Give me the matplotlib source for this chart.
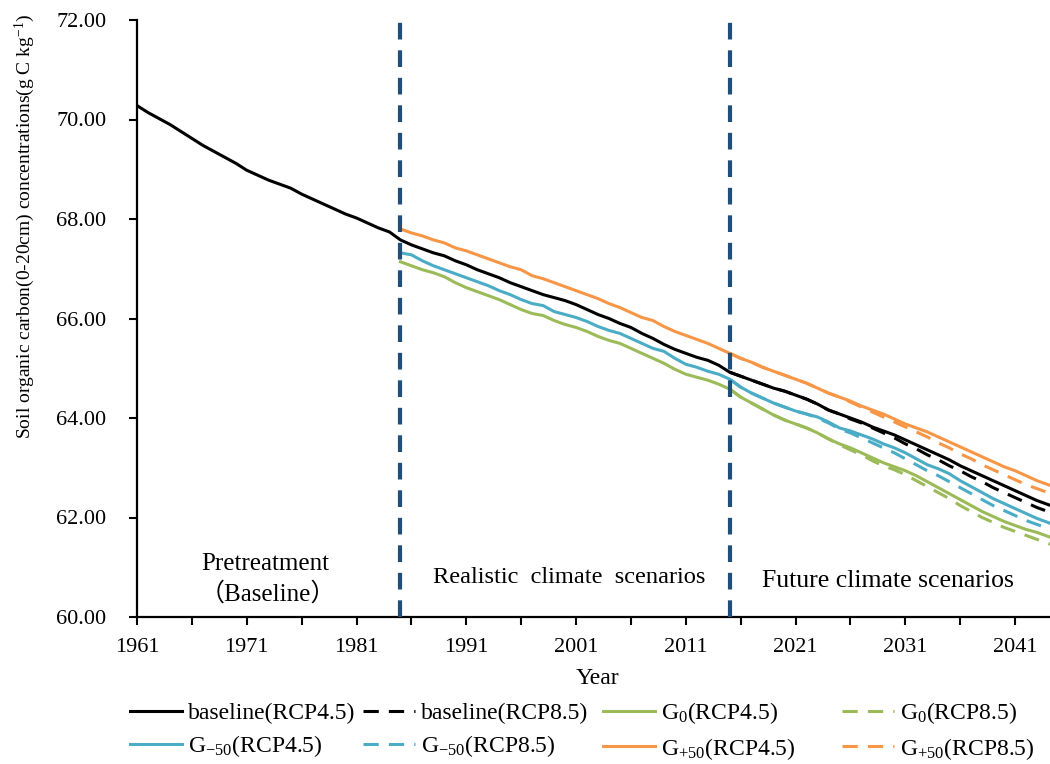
import matplotlib
matplotlib.use('Agg')
import matplotlib.pyplot as plt
from matplotlib.lines import Line2D

plt.rcParams['font.family'] = ['Liberation Serif', 'Noto Sans CJK SC']
plt.rcParams['mathtext.fontset'] = 'custom'
plt.rcParams['mathtext.rm'] = 'Liberation Serif'
plt.rcParams['mathtext.default'] = 'regular'

# years
years_base = list(range(1961, 2046))
years_sim = list(range(1985, 2046))
years_future = list(range(2015, 2046))

# baseline, RCP4.5 (1961-2045)
baseline_45 = [70.28, 70.14, 70.02, 69.90, 69.76, 69.62, 69.48, 69.36, 69.24, 69.12,
               68.98, 68.88, 68.78, 68.70, 68.62, 68.50, 68.40, 68.30, 68.20, 68.10,
               68.02, 67.92, 67.82, 67.74, 67.58,
               67.48, 67.40, 67.32, 67.26, 67.16, 67.08, 66.98, 66.90, 66.82, 66.72,
               66.64, 66.56, 66.48, 66.42, 66.36, 66.28, 66.18, 66.08, 66.00, 65.90,
               65.82, 65.70, 65.60, 65.48, 65.38, 65.30, 65.22, 65.16, 65.06, 64.92,
               64.84, 64.76, 64.68, 64.60, 64.54, 64.46, 64.38, 64.28, 64.16, 64.08,
               64.00, 63.92, 63.82, 63.74, 63.66, 63.56, 63.46, 63.36, 63.26, 63.16,
               63.04, 62.94, 62.84, 62.74, 62.64, 62.54, 62.44, 62.34, 62.26, 62.18]
# baseline, RCP8.5 (2015-2045)
baseline_85 = [64.92, 64.84, 64.76, 64.68, 64.60, 64.54, 64.46, 64.38, 64.28, 64.16,
               64.08, 63.98, 63.90, 63.80, 63.70, 63.60, 63.48, 63.38, 63.26, 63.16,
               63.04, 62.94, 62.82, 62.72, 62.60, 62.50, 62.40, 62.30, 62.20, 62.12,
               62.04]

# G0 (1985-2045)
g0_45 = [67.14, 67.06, 66.98, 66.92, 66.84, 66.72, 66.62, 66.54, 66.46, 66.38,
         66.28, 66.18, 66.10, 66.06, 65.96, 65.88, 65.82, 65.74, 65.64, 65.56,
         65.50, 65.40, 65.30, 65.20, 65.10, 64.98, 64.88, 64.82, 64.76, 64.68,
         64.58, 64.42, 64.30, 64.18, 64.06, 63.96, 63.88, 63.80, 63.70, 63.58,
         63.48, 63.40, 63.30, 63.20, 63.10, 63.02, 62.94, 62.84, 62.72, 62.60,
         62.48, 62.36, 62.24, 62.12, 62.02, 61.92, 61.84, 61.76, 61.70, 61.62,
         61.54]
g0_85 = [64.58, 64.42, 64.30, 64.18, 64.06, 63.96, 63.88, 63.80, 63.70, 63.58,
         63.46, 63.36, 63.26, 63.14, 63.04, 62.96, 62.86, 62.74, 62.62, 62.50,
         62.38, 62.24, 62.12, 62.00, 61.90, 61.80, 61.72, 61.64, 61.56, 61.48,
         61.40]

# G-50 (1985-2045)
gm50_45 = [67.32, 67.28, 67.16, 67.06, 66.98, 66.90, 66.82, 66.74, 66.66, 66.56,
           66.48, 66.38, 66.30, 66.26, 66.14, 66.08, 66.02, 65.94, 65.84, 65.76,
           65.70, 65.60, 65.50, 65.40, 65.34, 65.20, 65.08, 65.02, 64.94, 64.88,
           64.78, 64.62, 64.50, 64.40, 64.30, 64.22, 64.14, 64.08, 64.02, 63.92,
           63.80, 63.74, 63.66, 63.58, 63.48, 63.40, 63.30, 63.18, 63.06, 62.98,
           62.88, 62.74, 62.62, 62.50, 62.38, 62.28, 62.18, 62.08, 61.98, 61.90,
           61.80]
gm50_85 = [64.78, 64.62, 64.50, 64.40, 64.30, 64.22, 64.14, 64.08, 64.00, 63.90,
           63.78, 63.70, 63.60, 63.50, 63.40, 63.30, 63.18, 63.06, 62.94, 62.84,
           62.72, 62.60, 62.48, 62.36, 62.24, 62.14, 62.04, 61.94, 61.86, 61.78,
           61.70]

# G+50 (1985-2045)
gp50_45 = [67.80, 67.72, 67.66, 67.58, 67.52, 67.42, 67.36, 67.28, 67.20, 67.12,
           67.04, 66.98, 66.86, 66.80, 66.72, 66.64, 66.56, 66.48, 66.40, 66.30,
           66.22, 66.12, 66.02, 65.96, 65.84, 65.74, 65.66, 65.58, 65.50, 65.40,
           65.30, 65.20, 65.12, 65.02, 64.94, 64.86, 64.78, 64.70, 64.60, 64.50,
           64.42, 64.34, 64.24, 64.16, 64.08, 63.98, 63.88, 63.80, 63.72, 63.62,
           63.52, 63.42, 63.32, 63.22, 63.12, 63.02, 62.94, 62.84, 62.74, 62.66,
           62.58]
gp50_85 = [65.30, 65.20, 65.12, 65.02, 64.94, 64.86, 64.78, 64.70, 64.60, 64.50,
           64.42, 64.32, 64.22, 64.12, 64.02, 63.92, 63.82, 63.72, 63.62, 63.50,
           63.40, 63.28, 63.18, 63.06, 62.96, 62.86, 62.76, 62.66, 62.58, 62.50,
           62.42]

period_breaks = [1985, 2015]
x_ticks = list(range(1961, 2046, 5))
x_labels = [str(y) if (y - 1961) % 10 == 0 else '' for y in x_ticks]

c_black = '#000000'
c_green = '#9BBB59'
c_blue = '#4BACC6'
c_orange = '#F79646'
c_vline = '#1F4E79'

fig = plt.figure(figsize=(10.5, 7.64), dpi=100)
ax = fig.add_axes([137 / 1050, 1 - 617 / 764, 922 / 1050, 597 / 764])

lw = 2.2
dash = (0, (5, 3.3))
ax.plot(years_base, baseline_45, color=c_black, lw=lw, zorder=3)
ax.plot(years_future, baseline_85, color=c_black, lw=lw, ls=dash, zorder=3)
ax.plot(years_sim, g0_45, color=c_green, lw=lw, zorder=2)
ax.plot(years_future, g0_85, color=c_green, lw=lw, ls=dash, zorder=2)
ax.plot(years_sim, gm50_45, color=c_blue, lw=lw, zorder=2)
ax.plot(years_future, gm50_85, color=c_blue, lw=lw, ls=dash, zorder=2)
ax.plot(years_sim, gp50_45, color=c_orange, lw=lw, zorder=2)
ax.plot(years_future, gp50_85, color=c_orange, lw=lw, ls=dash, zorder=2)

for xb in period_breaks:
    ax.axvline(xb, ymin=0, ymax=1, color=c_vline, lw=3, ls=(0, (4, 2.6)), zorder=5)

ax.set_xlim(1961, 2045)
ax.set_ylim(60, 72)
ax.set_yticks([60, 62, 64, 66, 68, 70, 72])
ax.set_yticklabels(['%.2f' % v for v in [60, 62, 64, 66, 68, 70, 72]])
ax.set_xticks(x_ticks)
ax.set_xticklabels(x_labels)
ax.tick_params(axis='both', labelsize=16, direction='out', length=6, width=1.5, color='black')
ax.tick_params(axis='y', pad=16)
ax.tick_params(axis='x', pad=9)
for s in ['top', 'right']:
    ax.spines[s].set_visible(False)
for s in ['left', 'bottom']:
    ax.spines[s].set_linewidth(1.6)

fig.text(25 / 1050, 1 - 226 / 764,
         'Soil organic carbon(0-20cm) concentrations(g C kg$^{-1}$)',
         rotation=90, ha='center', va='center', fontsize=14)
fig.text(597 / 1050, 1 - 679 / 764, 'Year', ha='center', va='center', fontsize=17)

fig.text(265 / 1050, 1 - 570 / 764, 'Pretreatment', ha='center', va='baseline', fontsize=18)
fig.text(268 / 1050, 1 - 601 / 764, '（Baseline）', ha='center', va='baseline', fontsize=18)
fig.text(569 / 1050, 1 - 583 / 764, 'Realistic  climate  scenarios', ha='center', va='baseline', fontsize=17.6)
fig.text(888 / 1050, 1 - 587 / 764, 'Future climate scenarios', ha='center', va='baseline', fontsize=18.5)

# legend: four evenly spaced columns, two rows
legend_cols = [
    [(c_black, '-', 'baseline(RCP4.5)'), (c_blue, '-', 'G$_{-50}$(RCP4.5)')],
    [(c_black, '--', 'baseline(RCP8.5)'), (c_blue, '--', 'G$_{-50}$(RCP8.5)')],
    [(c_green, '-', 'G$_{0}$(RCP4.5)'), (c_orange, '-', 'G$_{+50}$(RCP4.5)')],
    [(c_green, '--', 'G$_{0}$(RCP8.5)'), (c_orange, '--', 'G$_{+50}$(RCP8.5)')],
]
col_x = [130, 363, 603, 842]
for x0, entries in zip(col_x, legend_cols):
    handles = [Line2D([], [], color=c, lw=lw, ls=(dash if s == '--' else '-')) for c, s, _ in entries]
    labels = [t for _, _, t in entries]
    fig.legend(handles, labels, loc='center left', bbox_to_anchor=(x0 / 1050, 1 - 731 / 764),
               frameon=False, fontsize=17, handlelength=2.2, handletextpad=0.25,
               borderpad=0, borderaxespad=0, labelspacing=0.4)

fig.savefig('out.png', dpi=100)
